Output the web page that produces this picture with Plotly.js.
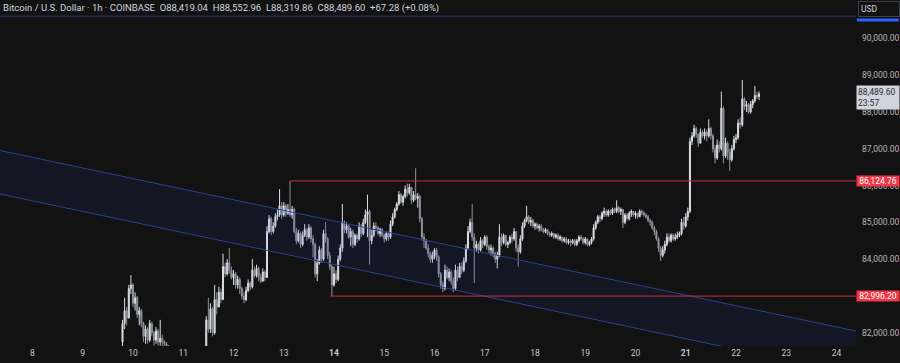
<!DOCTYPE html>
<html><head><meta charset="utf-8">
<script src="https://cdn.plot.ly/plotly-3.0.1.min.js"></script>
<style>html,body{margin:0;padding:0;background:#121212;overflow:hidden}#chart{width:900px;height:363px}</style>
</head><body><div id="chart"></div>
<script>
// ---- data (BTC/USD, 1h, Coinbase) ----
const firstCandle = '2025-03-09 19:00';
const firstOpen = 81750;
const closes = [
 82250,82600,82400,83200,83300,82800,82950,82500,82600,82250,81900,82100,81800,82250,82000,81800,82050,81750,81850,81750,81700,81650,
 81000,80500,80000,79500,79000,78600,78400,78200,78000,77800,78300,78700,79100,79600,80000,80400,80800,81200,
 82350,82100,82650,82000,82900,82700,83100,82900,83800,83600,83900,83700,83500,83600,83300,83450,83200,83000,82900,83150,
 83350,83250,83700,83550,83750,83500,83400,83650,83500,84750,85100,84750,84900,85150,85200,85450,85200,85450,85250,85350,
 85200,85350,84750,84500,84700,84400,84650,84800,84600,84850,84550,84400,83600,83900,84250,84000,84700,84550,84100,83800,
 83300,83600,83450,84000,84300,85000,84800,84900,84600,84750,84400,84650,84550,84900,84700,85000,85200,85300,84500,84650,
 84900,84850,84700,84800,84650,84550,84700,84600,84950,85150,85350,85500,85750,85550,85700,85900,85800,85950,85600,85750,
 85650,85700,85100,84600,84500,84300,84150,84000,84100,84250,84050,83600,83300,83200,83700,83500,83650,83400,83200,83700,
 83500,83800,83700,83950,84300,84750,85000,84600,84300,84400,84250,84500,84400,84600,84350,84250,84300,84150,84000,84100,
 84600,84450,84650,84400,84450,84600,84550,84750,84300,84200,84550,84900,85050,85150,85000,85050,84900,84950,84850,84900,
 84800,84750,84800,84700,84650,84700,84600,84650,84550,84600,84500,84550,84450,84500,84450,84500,84400,84500,84600,84550,
 84450,84550,84400,84450,84550,84850,85000,85150,85100,85250,85300,85200,85300,85250,85350,85300,85400,85300,85350,85000,
 85200,85100,85250,85300,85200,85250,85150,85300,85250,85200,85150,85050,85000,84850,84750,84550,84300,84100,84250,84400,
 84600,84500,84650,84550,84600,84650,84700,85000,84900,85150,85300,87200,87350,87550,87400,87150,87450,87350,87450,87350,
 87550,87350,87000,86750,87100,87000,88100,86800,87150,86900,86700,87000,87250,87300,87700,87650,88350,88150,88200,88000,
 88200,88300,88450,88419.04,88489.60
];
const highs = [
 82350,82950,82700,83300,83570,83350,83100,83000,82700,82650,82300,82200,82150,82350,82300,82050,82150,82100,82350,81950,81800,81750,
 81650,81100,80600,80100,79600,79100,78700,78500,78300,78100,78400,78800,79200,79700,80100,80500,80900,81300,
 82450,82950,82800,82700,83300,83100,83250,83200,84150,83900,84000,84300,83800,83700,83650,83550,83500,83250,83100,83250,
 83450,83400,84000,83800,83850,83800,83600,83750,83700,84900,85200,85150,85000,85250,85350,85900,85550,85550,85500,85500,
 86120,85450,85400,84850,84800,84750,84750,84950,84850,84950,84900,84650,84450,84000,84350,84300,84800,85000,84600,84200,
 83850,83800,83700,84100,84400,85500,85050,85000,84950,84850,84800,84700,84700,85000,84950,85100,85350,85750,85350,84800,
 85000,85000,84900,84850,84850,84700,84750,84750,85050,85250,85400,85550,85850,85800,85750,86000,86050,86050,85950,85850,
 86470,85800,85750,85150,84700,84550,84400,84200,84200,84300,84300,84100,83650,83400,83850,83800,83750,83700,83500,83850,
 83800,83900,83900,84050,84400,84900,85100,85500,84700,84500,84450,84600,84550,84650,84650,84400,84400,84350,84200,84200,
 84950,84700,84700,84650,84500,84650,84700,84850,84750,84400,84650,85000,85100,85450,85200,85150,85100,85000,85000,84950,
 84950,84850,84850,84800,84750,84750,84700,84700,84700,84650,84600,84600,84600,84550,84550,84550,84550,84550,84650,84650,
 84600,84600,84550,84500,84600,84950,85050,85200,85200,85300,85400,85350,85350,85350,85400,85400,85600,85450,85400,85350,
 85250,85250,85300,85350,85300,85300,85250,85350,85350,85300,85250,85200,85100,85050,84900,84800,84600,84350,84350,84500,
 84700,84700,84700,84700,84700,84750,84750,85100,85150,85250,85400,87300,87450,87650,87600,87400,87550,87500,87550,87500,
 87800,87600,87400,87100,87250,87200,88550,88150,87300,87200,87000,87100,87350,87400,87800,87850,88870,88400,88300,88250,
 88300,88350,88700,88550,88552.96
];
const lows = [
 81600,82100,82200,82400,83050,82700,82600,82400,82200,82150,81750,81700,81700,81750,81900,81650,81700,81650,81650,81600,81550,81400,
 80800,80300,79700,79200,78700,78300,78100,77900,77600,77400,77700,78200,78600,79000,79500,79900,80300,80700,
 81100,82000,82000,81900,81950,82500,82700,82800,82900,83500,83550,83600,83450,83300,83200,83200,83050,82900,82800,82850,
 83100,83150,83200,83500,83500,83400,83350,83400,83400,83500,84700,84650,84700,84850,85050,85150,85100,85150,85150,85200,
 85150,85100,84700,84400,84450,84300,84350,84600,84500,84550,84450,84050,83500,83400,83850,83900,83950,84450,84000,83700,
 82996.2,83250,83350,83400,83950,84200,84700,84700,84550,84350,84300,84350,84450,84500,84600,84650,84950,84600,83850,84400,
 84600,84750,84650,84600,84600,84450,84500,84500,84550,84900,85100,85300,85450,85500,85450,85650,85700,85750,85500,85550,
 85600,85400,85000,84500,84300,84250,84050,83900,83900,84000,83950,83500,83200,83100,83150,83450,83400,83300,83100,83150,
 83400,83500,83600,83650,83900,84250,84700,84500,83350,84200,84150,84200,84300,84350,84250,84150,84100,84050,83900,83750,
 84050,84350,84400,84350,84300,84400,84450,84500,84200,83800,84150,84500,84850,85000,84950,84900,84850,84800,84800,84750,
 84750,84700,84700,84650,84600,84600,84550,84550,84500,84500,84450,84450,84400,84400,84350,84400,84350,84350,84450,84500,
 84400,84400,84350,84350,84400,84500,84800,84950,85000,85050,85150,85150,85150,85200,85200,85250,85250,85250,85200,84850,
 84950,85050,85050,85150,85150,85100,85100,85150,85200,85150,85100,85000,84900,84800,84650,84500,84200,83950,84050,84150,
 84350,84450,84450,84500,84500,84550,84600,84650,84800,84850,85050,85250,87100,87300,87300,87050,87150,87300,87250,87200,
 87300,87250,86900,86600,86700,86900,86950,86600,86750,86700,86400,86650,86950,87150,87250,87550,87600,88050,88000,87950,
 87950,88100,88250,88350,88319.86
];
const dayTickVals = ['2025-03-08','2025-03-09','2025-03-10','2025-03-11','2025-03-12','2025-03-13','2025-03-14','2025-03-15','2025-03-16','2025-03-17','2025-03-18','2025-03-19','2025-03-20','2025-03-21','2025-03-22','2025-03-23','2025-03-24'];
const dayTickText = ['8','9','10','11','12','13','<b>14</b>','15','16','17','18','19','20','<b>21</b>','22','23','24'];
const priceTicks = [82000,83000,84000,85000,86000,87000,88000,89000,90000];
const viewStart = '2025-03-07 08:29', viewEnd = '2025-03-24 09:19';
const channelDates = [viewStart, viewEnd];
const channelUpper = [86951, 82047];
const channelLower = [85770, 80863];
const resistanceStart = '2025-03-13 03:00', resistancePrice = 86124.76;
const supportStart = '2025-03-13 22:00', supportPrice = 82996.20;
const lastPrice = 88489.60, countdown = '23:57';
const topLevel = 90600;
const headerText = 'Bitcoin / U.S. Dollar · 1h · COINBASE  O88,419.04  H88,552.96  L88,319.86  C88,489.60  +67.28 (+0.08%)';

// ---- build ----
function fmtDate(ms){return new Date(ms).toISOString().slice(0,16).replace('T',' ');}
const t0 = Date.parse(firstCandle.replace(' ','T')+':00Z');
const times = closes.map((_,i)=>fmtDate(t0+i*3600000));
const opens = closes.map((c,i)=> i===0 ? firstOpen : closes[i-1]);
const hi = highs.map((h,i)=>Math.max(h,opens[i],closes[i]));
const lo = lows.map((l,i)=>Math.min(l,opens[i],closes[i]));
const fmt = v => v.toLocaleString('en-US',{minimumFractionDigits:2,maximumFractionDigits:2});

const traces = [
 {type:'scatter',mode:'lines',x:channelDates,y:channelUpper,line:{color:'#2b4391',width:1},hoverinfo:'skip'},
 {type:'scatter',mode:'lines',x:channelDates,y:channelLower,line:{color:'#2b4391',width:1},fill:'tonexty',fillcolor:'rgba(41,98,255,0.075)',hoverinfo:'skip'},
 {type:'scatter',mode:'lines',x:[resistanceStart,viewEnd],y:[resistancePrice,resistancePrice],line:{color:'#c8303c',width:1},hoverinfo:'skip'},
 {type:'scatter',mode:'lines',x:[supportStart,viewEnd],y:[supportPrice,supportPrice],line:{color:'#c8303c',width:1},hoverinfo:'skip'},
 {type:'candlestick',x:times,open:opens,high:hi,low:lo,close:closes,whiskerwidth:0,
  increasing:{line:{color:'#dadde4',width:1},fillcolor:'#dadde4'},
  decreasing:{line:{color:'#8f929c',width:1},fillcolor:'#8f929c'},hoverinfo:'skip'}
];

const FF = 'Roboto, "Liberation Sans", sans-serif';
const layout = {
 width:900,height:363,margin:{l:0,r:44,t:0,b:17,pad:0},
 paper_bgcolor:'#121212',plot_bgcolor:'#121212',showlegend:false,font:{family:FF,size:9,color:'#b2b5be'},
 xaxis:{type:'date',range:[viewStart,viewEnd],tickvals:dayTickVals,ticktext:dayTickText,showgrid:false,zeroline:false,
   showline:false,ticks:'',tickfont:{family:FF,size:8.5,color:'#c3c6ce'},rangeslider:{visible:false},fixedrange:true},
 yaxis:{side:'right',range:[81640,91041],tickvals:priceTicks,ticktext:priceTicks.map(fmt),showgrid:false,zeroline:false,
   showline:false,ticks:'',tickfont:{family:FF,size:8.5,color:'#b2b5be'},ticklabelstandoff:5,fixedrange:true},
 shapes:[
  {type:'line',xref:'paper',x0:0,x1:1,yref:'y',y0:topLevel,y1:topLevel,line:{color:'#1f2d55',width:1.5}},
  {type:'rect',xref:'paper',x0:1.001,x1:1.05,yref:'y',y0:90456,y1:90538,fillcolor:'#2962ff',line:{width:0}}
 ],
 annotations:[
  {xref:'paper',yref:'paper',x:0,y:1,xanchor:'left',yanchor:'top',xshift:1,yshift:0,showarrow:false,
   text:headerText,font:{family:FF,size:9.5,color:'#d1d4dc'}},
  {xref:'paper',yref:'paper',x:1,y:1,xanchor:'left',yanchor:'top',xshift:2,yshift:-1,showarrow:false,
   text:'USD',font:{family:FF,size:8.5,color:'#d1d4dc'},bordercolor:'#3a3d45',borderwidth:1,borderpad:2,width:36,align:'left'},
  {xref:'paper',yref:'y',x:1,y:resistancePrice,xanchor:'left',yanchor:'middle',xshift:0,showarrow:false,
   text:fmt(resistancePrice),font:{family:FF,size:8.5,color:'#ffffff'},bgcolor:'#f23645',borderpad:0,width:42},
  {xref:'paper',yref:'y',x:1,y:supportPrice,xanchor:'left',yanchor:'middle',xshift:0,showarrow:false,
   text:fmt(supportPrice),font:{family:FF,size:8.5,color:'#ffffff'},bgcolor:'#f23645',borderpad:0,width:42},
  {xref:'paper',yref:'y',x:1,y:lastPrice,xanchor:'left',yanchor:'middle',xshift:0,yshift:-4,showarrow:false,
   text:fmt(lastPrice)+'<br>'+countdown,font:{family:FF,size:8.5,color:'#2a2e39'},bgcolor:'#d1d4dc',borderpad:1,width:40,align:'left'}
 ]
};
Plotly.newPlot('chart',traces,layout,{staticPlot:true,displayModeBar:false});
</script></body></html>
